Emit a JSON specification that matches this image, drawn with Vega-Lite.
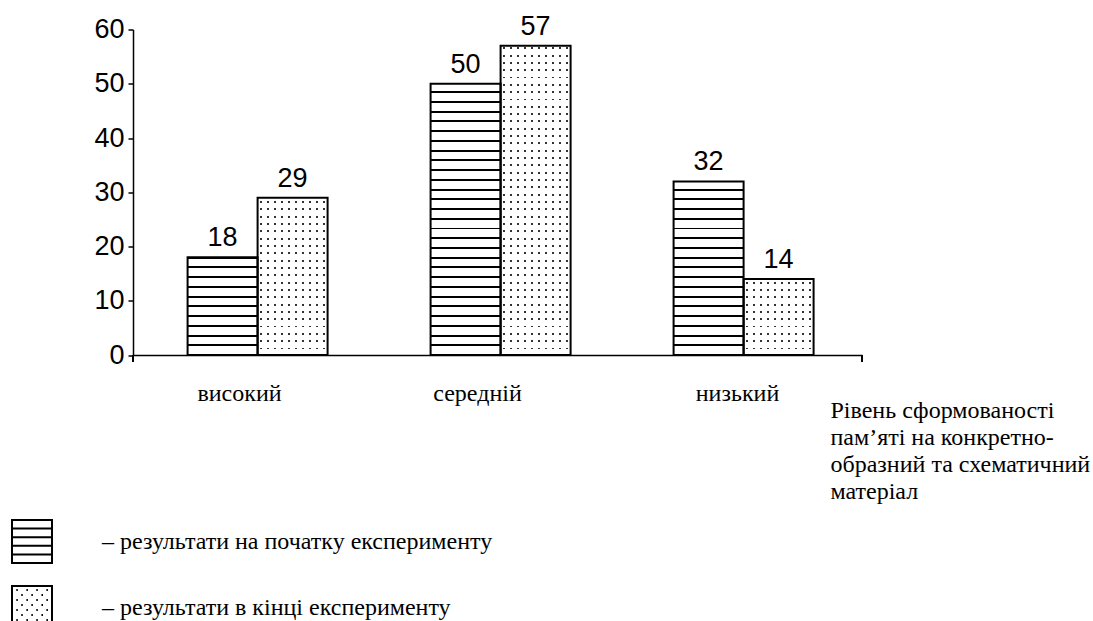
{
 "$schema": "https://vega.github.io/schema/vega-lite/v6.json",
 "width": 729, "height": 325.5,
 "autosize": {"type": "none"},
 "padding": {"left": 133, "top": 29.5, "right": 231, "bottom": 266},
 "background": "white",
 "config": {"view": {"stroke": null}},
 "data": {"values": [
  {"level": "високий", "series": "результати на початку експерименту", "value": 18},
  {"level": "високий", "series": "результати в кінці експерименту", "value": 29},
  {"level": "середній", "series": "результати на початку експерименту", "value": 50},
  {"level": "середній", "series": "результати в кінці експерименту", "value": 57},
  {"level": "низький", "series": "результати на початку експерименту", "value": 32},
  {"level": "низький", "series": "результати в кінці експерименту", "value": 14}
 ]},
 "layer": [
  {
   "mark": {"type": "bar"},
   "encoding": {
    "x": {"field": "level", "type": "nominal", "sort": ["високий", "середній", "низький"], "scale": {"paddingInner": 0, "paddingOuter": 0},
     "axis": {"title": ["Рівень сформованості", "пам’яті на конкретно-", "образний та схематичний", "матеріал"], "titleFont": "Liberation Serif", "titleFontSize": 24, "titleFontWeight": "normal", "titleColor": "black", "titleAlign": "left", "titleAnchor": "start", "titleBaseline": "top", "titleX": 697, "titleY": 43, "titleLineHeight": 27,
      "labelFont": "Liberation Serif", "labelFontSize": 24, "labelColor": "black", "labelAngle": 0, "labelBaseline": "alphabetic", "labelPadding": 45,
      "labelOffset": {"condition": [{"test": "datum.value === 'високий'", "value": -15}, {"test": "datum.value === 'середній'", "value": -20}], "value": -3},
      "ticks": false, "tickSize": 0, "domainColor": "black", "domainWidth": 1.5, "zindex": 1}},
    "xOffset": {"field": "series", "type": "nominal", "sort": ["результати на початку експерименту", "результати в кінці експерименту"], "scale": {"paddingInner": 0, "paddingOuter": 0.7357, "align": 0.53}},
    "y": {"field": "value", "type": "quantitative", "scale": {"domain": [0, 60], "nice": false},
     "axis": {"values": [0, 10, 20, 30, 40, 50, 60], "title": null, "grid": false, "domainColor": "black", "domainWidth": 1.5, "tickColor": "black", "tickWidth": 1.5, "tickSize": 5, "labelFont": "Liberation Sans", "labelFontSize": 27, "labelColor": "black", "labelPadding": 4, "zindex": 1}},
    "fill": {"condition": {"test": "datum.series === 'результати на початку експерименту'", "value": "black"},
     "value": {"gradient": "linear", "x1": 0, "y1": 0, "x2": 1, "y2": 0, "stops": [
      {"offset": 0, "color": "white"},
      {"offset": 0.0357, "color": "white"}, {"offset": 0.0357, "color": "#333"}, {"offset": 0.0643, "color": "#333"}, {"offset": 0.0643, "color": "white"},
      {"offset": 0.1357, "color": "white"}, {"offset": 0.1357, "color": "#333"}, {"offset": 0.1643, "color": "#333"}, {"offset": 0.1643, "color": "white"},
      {"offset": 0.2357, "color": "white"}, {"offset": 0.2357, "color": "#333"}, {"offset": 0.2643, "color": "#333"}, {"offset": 0.2643, "color": "white"},
      {"offset": 0.3357, "color": "white"}, {"offset": 0.3357, "color": "#333"}, {"offset": 0.3643, "color": "#333"}, {"offset": 0.3643, "color": "white"},
      {"offset": 0.4357, "color": "white"}, {"offset": 0.4357, "color": "#333"}, {"offset": 0.4643, "color": "#333"}, {"offset": 0.4643, "color": "white"},
      {"offset": 0.5357, "color": "white"}, {"offset": 0.5357, "color": "#333"}, {"offset": 0.5643, "color": "#333"}, {"offset": 0.5643, "color": "white"},
      {"offset": 0.6357, "color": "white"}, {"offset": 0.6357, "color": "#333"}, {"offset": 0.6643, "color": "#333"}, {"offset": 0.6643, "color": "white"},
      {"offset": 0.7357, "color": "white"}, {"offset": 0.7357, "color": "#333"}, {"offset": 0.7643, "color": "#333"}, {"offset": 0.7643, "color": "white"},
      {"offset": 0.8357, "color": "white"}, {"offset": 0.8357, "color": "#333"}, {"offset": 0.8643, "color": "#333"}, {"offset": 0.8643, "color": "white"},
      {"offset": 0.9357, "color": "white"}, {"offset": 0.9357, "color": "#333"}, {"offset": 0.9643, "color": "#333"}, {"offset": 0.9643, "color": "white"},
      {"offset": 1, "color": "white"}
     ]}}
   }
  },
  {
   "mark": {"type": "bar"},
   "encoding": {
    "x": {"field": "level", "type": "nominal", "sort": ["високий", "середній", "низький"]},
    "xOffset": {"field": "series", "type": "nominal", "sort": ["результати на початку експерименту", "результати в кінці експерименту"]},
    "y": {"datum": 60},
    "y2": {"datum": 0},
    "fill": {"condition": {"test": "datum.series === 'результати на початку експерименту'",
      "value": {"gradient": "linear", "x1": 0, "y1": 0, "x2": 0, "y2": 1, "stops": [
       {"offset": 0, "color": "white"},
       {"offset": 0.0103, "color": "white"}, {"offset": 0.0103, "color": "rgba(255,255,255,0)"}, {"offset": 0.0163, "color": "rgba(255,255,255,0)"}, {"offset": 0.0163, "color": "white"},
       {"offset": 0.0402, "color": "white"}, {"offset": 0.0402, "color": "rgba(255,255,255,0)"}, {"offset": 0.0462, "color": "rgba(255,255,255,0)"}, {"offset": 0.0462, "color": "white"},
       {"offset": 0.0701, "color": "white"}, {"offset": 0.0701, "color": "rgba(255,255,255,0)"}, {"offset": 0.0761, "color": "rgba(255,255,255,0)"}, {"offset": 0.0761, "color": "white"},
       {"offset": 0.1, "color": "white"}, {"offset": 0.1, "color": "rgba(255,255,255,0)"}, {"offset": 0.106, "color": "rgba(255,255,255,0)"}, {"offset": 0.106, "color": "white"},
       {"offset": 0.1299, "color": "white"}, {"offset": 0.1299, "color": "rgba(255,255,255,0)"}, {"offset": 0.1359, "color": "rgba(255,255,255,0)"}, {"offset": 0.1359, "color": "white"},
       {"offset": 0.1598, "color": "white"}, {"offset": 0.1598, "color": "rgba(255,255,255,0)"}, {"offset": 0.1658, "color": "rgba(255,255,255,0)"}, {"offset": 0.1658, "color": "white"},
       {"offset": 0.1897, "color": "white"}, {"offset": 0.1897, "color": "rgba(255,255,255,0)"}, {"offset": 0.1957, "color": "rgba(255,255,255,0)"}, {"offset": 0.1957, "color": "white"},
       {"offset": 0.2196, "color": "white"}, {"offset": 0.2196, "color": "rgba(255,255,255,0)"}, {"offset": 0.2256, "color": "rgba(255,255,255,0)"}, {"offset": 0.2256, "color": "white"},
       {"offset": 0.2495, "color": "white"}, {"offset": 0.2495, "color": "rgba(255,255,255,0)"}, {"offset": 0.2555, "color": "rgba(255,255,255,0)"}, {"offset": 0.2555, "color": "white"},
       {"offset": 0.2794, "color": "white"}, {"offset": 0.2794, "color": "rgba(255,255,255,0)"}, {"offset": 0.2854, "color": "rgba(255,255,255,0)"}, {"offset": 0.2854, "color": "white"},
       {"offset": 0.3093, "color": "white"}, {"offset": 0.3093, "color": "rgba(255,255,255,0)"}, {"offset": 0.3153, "color": "rgba(255,255,255,0)"}, {"offset": 0.3153, "color": "white"},
       {"offset": 0.3392, "color": "white"}, {"offset": 0.3392, "color": "rgba(255,255,255,0)"}, {"offset": 0.3452, "color": "rgba(255,255,255,0)"}, {"offset": 0.3452, "color": "white"},
       {"offset": 0.3691, "color": "white"}, {"offset": 0.3691, "color": "rgba(255,255,255,0)"}, {"offset": 0.3751, "color": "rgba(255,255,255,0)"}, {"offset": 0.3751, "color": "white"},
       {"offset": 0.399, "color": "white"}, {"offset": 0.399, "color": "rgba(255,255,255,0)"}, {"offset": 0.405, "color": "rgba(255,255,255,0)"}, {"offset": 0.405, "color": "white"},
       {"offset": 0.4289, "color": "white"}, {"offset": 0.4289, "color": "rgba(255,255,255,0)"}, {"offset": 0.4349, "color": "rgba(255,255,255,0)"}, {"offset": 0.4349, "color": "white"},
       {"offset": 0.4588, "color": "white"}, {"offset": 0.4588, "color": "rgba(255,255,255,0)"}, {"offset": 0.4648, "color": "rgba(255,255,255,0)"}, {"offset": 0.4648, "color": "white"},
       {"offset": 0.4887, "color": "white"}, {"offset": 0.4887, "color": "rgba(255,255,255,0)"}, {"offset": 0.4947, "color": "rgba(255,255,255,0)"}, {"offset": 0.4947, "color": "white"},
       {"offset": 0.5186, "color": "white"}, {"offset": 0.5186, "color": "rgba(255,255,255,0)"}, {"offset": 0.5246, "color": "rgba(255,255,255,0)"}, {"offset": 0.5246, "color": "white"},
       {"offset": 0.5485, "color": "white"}, {"offset": 0.5485, "color": "rgba(255,255,255,0)"}, {"offset": 0.5545, "color": "rgba(255,255,255,0)"}, {"offset": 0.5545, "color": "white"},
       {"offset": 0.5784, "color": "white"}, {"offset": 0.5784, "color": "rgba(255,255,255,0)"}, {"offset": 0.5844, "color": "rgba(255,255,255,0)"}, {"offset": 0.5844, "color": "white"},
       {"offset": 0.6083, "color": "white"}, {"offset": 0.6083, "color": "rgba(255,255,255,0)"}, {"offset": 0.6143, "color": "rgba(255,255,255,0)"}, {"offset": 0.6143, "color": "white"},
       {"offset": 0.6382, "color": "white"}, {"offset": 0.6382, "color": "rgba(255,255,255,0)"}, {"offset": 0.6442, "color": "rgba(255,255,255,0)"}, {"offset": 0.6442, "color": "white"},
       {"offset": 0.6681, "color": "white"}, {"offset": 0.6681, "color": "rgba(255,255,255,0)"}, {"offset": 0.6741, "color": "rgba(255,255,255,0)"}, {"offset": 0.6741, "color": "white"},
       {"offset": 0.698, "color": "white"}, {"offset": 0.698, "color": "rgba(255,255,255,0)"}, {"offset": 0.704, "color": "rgba(255,255,255,0)"}, {"offset": 0.704, "color": "white"},
       {"offset": 0.7279, "color": "white"}, {"offset": 0.7279, "color": "rgba(255,255,255,0)"}, {"offset": 0.7339, "color": "rgba(255,255,255,0)"}, {"offset": 0.7339, "color": "white"},
       {"offset": 0.7578, "color": "white"}, {"offset": 0.7578, "color": "rgba(255,255,255,0)"}, {"offset": 0.7638, "color": "rgba(255,255,255,0)"}, {"offset": 0.7638, "color": "white"},
       {"offset": 0.7877, "color": "white"}, {"offset": 0.7877, "color": "rgba(255,255,255,0)"}, {"offset": 0.7937, "color": "rgba(255,255,255,0)"}, {"offset": 0.7937, "color": "white"},
       {"offset": 0.8176, "color": "white"}, {"offset": 0.8176, "color": "rgba(255,255,255,0)"}, {"offset": 0.8236, "color": "rgba(255,255,255,0)"}, {"offset": 0.8236, "color": "white"},
       {"offset": 0.8475, "color": "white"}, {"offset": 0.8475, "color": "rgba(255,255,255,0)"}, {"offset": 0.8535, "color": "rgba(255,255,255,0)"}, {"offset": 0.8535, "color": "white"},
       {"offset": 0.8774, "color": "white"}, {"offset": 0.8774, "color": "rgba(255,255,255,0)"}, {"offset": 0.8834, "color": "rgba(255,255,255,0)"}, {"offset": 0.8834, "color": "white"},
       {"offset": 0.9073, "color": "white"}, {"offset": 0.9073, "color": "rgba(255,255,255,0)"}, {"offset": 0.9133, "color": "rgba(255,255,255,0)"}, {"offset": 0.9133, "color": "white"},
       {"offset": 0.9372, "color": "white"}, {"offset": 0.9372, "color": "rgba(255,255,255,0)"}, {"offset": 0.9432, "color": "rgba(255,255,255,0)"}, {"offset": 0.9432, "color": "white"},
       {"offset": 0.9671, "color": "white"}, {"offset": 0.9671, "color": "rgba(255,255,255,0)"}, {"offset": 0.9731, "color": "rgba(255,255,255,0)"}, {"offset": 0.9731, "color": "white"},
       {"offset": 1, "color": "white"}
      ]}},
     "value": {"gradient": "linear", "x1": 0, "y1": 0, "x2": 0, "y2": 1, "stops": [
      {"offset": 0, "color": "white"},
      {"offset": 0.0095, "color": "white"}, {"offset": 0.0095, "color": "rgba(255,255,255,0)"}, {"offset": 0.0155, "color": "rgba(255,255,255,0)"}, {"offset": 0.0155, "color": "white"},
      {"offset": 0.032, "color": "white"}, {"offset": 0.032, "color": "rgba(255,255,255,0)"}, {"offset": 0.038, "color": "rgba(255,255,255,0)"}, {"offset": 0.038, "color": "white"},
      {"offset": 0.0545, "color": "white"}, {"offset": 0.0545, "color": "rgba(255,255,255,0)"}, {"offset": 0.0605, "color": "rgba(255,255,255,0)"}, {"offset": 0.0605, "color": "white"},
      {"offset": 0.077, "color": "white"}, {"offset": 0.077, "color": "rgba(255,255,255,0)"}, {"offset": 0.083, "color": "rgba(255,255,255,0)"}, {"offset": 0.083, "color": "white"},
      {"offset": 0.0995, "color": "white"}, {"offset": 0.0995, "color": "rgba(255,255,255,0)"}, {"offset": 0.1055, "color": "rgba(255,255,255,0)"}, {"offset": 0.1055, "color": "white"},
      {"offset": 0.122, "color": "white"}, {"offset": 0.122, "color": "rgba(255,255,255,0)"}, {"offset": 0.128, "color": "rgba(255,255,255,0)"}, {"offset": 0.128, "color": "white"},
      {"offset": 0.1445, "color": "white"}, {"offset": 0.1445, "color": "rgba(255,255,255,0)"}, {"offset": 0.1505, "color": "rgba(255,255,255,0)"}, {"offset": 0.1505, "color": "white"},
      {"offset": 0.167, "color": "white"}, {"offset": 0.167, "color": "rgba(255,255,255,0)"}, {"offset": 0.173, "color": "rgba(255,255,255,0)"}, {"offset": 0.173, "color": "white"},
      {"offset": 0.1895, "color": "white"}, {"offset": 0.1895, "color": "rgba(255,255,255,0)"}, {"offset": 0.1955, "color": "rgba(255,255,255,0)"}, {"offset": 0.1955, "color": "white"},
      {"offset": 0.212, "color": "white"}, {"offset": 0.212, "color": "rgba(255,255,255,0)"}, {"offset": 0.218, "color": "rgba(255,255,255,0)"}, {"offset": 0.218, "color": "white"},
      {"offset": 0.2345, "color": "white"}, {"offset": 0.2345, "color": "rgba(255,255,255,0)"}, {"offset": 0.2405, "color": "rgba(255,255,255,0)"}, {"offset": 0.2405, "color": "white"},
      {"offset": 0.257, "color": "white"}, {"offset": 0.257, "color": "rgba(255,255,255,0)"}, {"offset": 0.263, "color": "rgba(255,255,255,0)"}, {"offset": 0.263, "color": "white"},
      {"offset": 0.2795, "color": "white"}, {"offset": 0.2795, "color": "rgba(255,255,255,0)"}, {"offset": 0.2855, "color": "rgba(255,255,255,0)"}, {"offset": 0.2855, "color": "white"},
      {"offset": 0.302, "color": "white"}, {"offset": 0.302, "color": "rgba(255,255,255,0)"}, {"offset": 0.308, "color": "rgba(255,255,255,0)"}, {"offset": 0.308, "color": "white"},
      {"offset": 0.3245, "color": "white"}, {"offset": 0.3245, "color": "rgba(255,255,255,0)"}, {"offset": 0.3305, "color": "rgba(255,255,255,0)"}, {"offset": 0.3305, "color": "white"},
      {"offset": 0.347, "color": "white"}, {"offset": 0.347, "color": "rgba(255,255,255,0)"}, {"offset": 0.353, "color": "rgba(255,255,255,0)"}, {"offset": 0.353, "color": "white"},
      {"offset": 0.3695, "color": "white"}, {"offset": 0.3695, "color": "rgba(255,255,255,0)"}, {"offset": 0.3755, "color": "rgba(255,255,255,0)"}, {"offset": 0.3755, "color": "white"},
      {"offset": 0.392, "color": "white"}, {"offset": 0.392, "color": "rgba(255,255,255,0)"}, {"offset": 0.398, "color": "rgba(255,255,255,0)"}, {"offset": 0.398, "color": "white"},
      {"offset": 0.4145, "color": "white"}, {"offset": 0.4145, "color": "rgba(255,255,255,0)"}, {"offset": 0.4205, "color": "rgba(255,255,255,0)"}, {"offset": 0.4205, "color": "white"},
      {"offset": 0.437, "color": "white"}, {"offset": 0.437, "color": "rgba(255,255,255,0)"}, {"offset": 0.443, "color": "rgba(255,255,255,0)"}, {"offset": 0.443, "color": "white"},
      {"offset": 0.4595, "color": "white"}, {"offset": 0.4595, "color": "rgba(255,255,255,0)"}, {"offset": 0.4655, "color": "rgba(255,255,255,0)"}, {"offset": 0.4655, "color": "white"},
      {"offset": 0.482, "color": "white"}, {"offset": 0.482, "color": "rgba(255,255,255,0)"}, {"offset": 0.488, "color": "rgba(255,255,255,0)"}, {"offset": 0.488, "color": "white"},
      {"offset": 0.5045, "color": "white"}, {"offset": 0.5045, "color": "rgba(255,255,255,0)"}, {"offset": 0.5105, "color": "rgba(255,255,255,0)"}, {"offset": 0.5105, "color": "white"},
      {"offset": 0.527, "color": "white"}, {"offset": 0.527, "color": "rgba(255,255,255,0)"}, {"offset": 0.533, "color": "rgba(255,255,255,0)"}, {"offset": 0.533, "color": "white"},
      {"offset": 0.5495, "color": "white"}, {"offset": 0.5495, "color": "rgba(255,255,255,0)"}, {"offset": 0.5555, "color": "rgba(255,255,255,0)"}, {"offset": 0.5555, "color": "white"},
      {"offset": 0.572, "color": "white"}, {"offset": 0.572, "color": "rgba(255,255,255,0)"}, {"offset": 0.578, "color": "rgba(255,255,255,0)"}, {"offset": 0.578, "color": "white"},
      {"offset": 0.5945, "color": "white"}, {"offset": 0.5945, "color": "rgba(255,255,255,0)"}, {"offset": 0.6005, "color": "rgba(255,255,255,0)"}, {"offset": 0.6005, "color": "white"},
      {"offset": 0.617, "color": "white"}, {"offset": 0.617, "color": "rgba(255,255,255,0)"}, {"offset": 0.623, "color": "rgba(255,255,255,0)"}, {"offset": 0.623, "color": "white"},
      {"offset": 0.6395, "color": "white"}, {"offset": 0.6395, "color": "rgba(255,255,255,0)"}, {"offset": 0.6455, "color": "rgba(255,255,255,0)"}, {"offset": 0.6455, "color": "white"},
      {"offset": 0.662, "color": "white"}, {"offset": 0.662, "color": "rgba(255,255,255,0)"}, {"offset": 0.668, "color": "rgba(255,255,255,0)"}, {"offset": 0.668, "color": "white"},
      {"offset": 0.6845, "color": "white"}, {"offset": 0.6845, "color": "rgba(255,255,255,0)"}, {"offset": 0.6905, "color": "rgba(255,255,255,0)"}, {"offset": 0.6905, "color": "white"},
      {"offset": 0.707, "color": "white"}, {"offset": 0.707, "color": "rgba(255,255,255,0)"}, {"offset": 0.713, "color": "rgba(255,255,255,0)"}, {"offset": 0.713, "color": "white"},
      {"offset": 0.7295, "color": "white"}, {"offset": 0.7295, "color": "rgba(255,255,255,0)"}, {"offset": 0.7355, "color": "rgba(255,255,255,0)"}, {"offset": 0.7355, "color": "white"},
      {"offset": 0.752, "color": "white"}, {"offset": 0.752, "color": "rgba(255,255,255,0)"}, {"offset": 0.758, "color": "rgba(255,255,255,0)"}, {"offset": 0.758, "color": "white"},
      {"offset": 0.7745, "color": "white"}, {"offset": 0.7745, "color": "rgba(255,255,255,0)"}, {"offset": 0.7805, "color": "rgba(255,255,255,0)"}, {"offset": 0.7805, "color": "white"},
      {"offset": 0.797, "color": "white"}, {"offset": 0.797, "color": "rgba(255,255,255,0)"}, {"offset": 0.803, "color": "rgba(255,255,255,0)"}, {"offset": 0.803, "color": "white"},
      {"offset": 0.8195, "color": "white"}, {"offset": 0.8195, "color": "rgba(255,255,255,0)"}, {"offset": 0.8255, "color": "rgba(255,255,255,0)"}, {"offset": 0.8255, "color": "white"},
      {"offset": 0.842, "color": "white"}, {"offset": 0.842, "color": "rgba(255,255,255,0)"}, {"offset": 0.848, "color": "rgba(255,255,255,0)"}, {"offset": 0.848, "color": "white"},
      {"offset": 0.8645, "color": "white"}, {"offset": 0.8645, "color": "rgba(255,255,255,0)"}, {"offset": 0.8705, "color": "rgba(255,255,255,0)"}, {"offset": 0.8705, "color": "white"},
      {"offset": 0.887, "color": "white"}, {"offset": 0.887, "color": "rgba(255,255,255,0)"}, {"offset": 0.893, "color": "rgba(255,255,255,0)"}, {"offset": 0.893, "color": "white"},
      {"offset": 0.9095, "color": "white"}, {"offset": 0.9095, "color": "rgba(255,255,255,0)"}, {"offset": 0.9155, "color": "rgba(255,255,255,0)"}, {"offset": 0.9155, "color": "white"},
      {"offset": 0.932, "color": "white"}, {"offset": 0.932, "color": "rgba(255,255,255,0)"}, {"offset": 0.938, "color": "rgba(255,255,255,0)"}, {"offset": 0.938, "color": "white"},
      {"offset": 0.9545, "color": "white"}, {"offset": 0.9545, "color": "rgba(255,255,255,0)"}, {"offset": 0.9605, "color": "rgba(255,255,255,0)"}, {"offset": 0.9605, "color": "white"},
      {"offset": 0.977, "color": "white"}, {"offset": 0.977, "color": "rgba(255,255,255,0)"}, {"offset": 0.983, "color": "rgba(255,255,255,0)"}, {"offset": 0.983, "color": "white"},
      {"offset": 1, "color": "white"}
     ]}}
   }
  },
  {
   "mark": {"type": "bar", "fill": "transparent", "stroke": "black", "strokeWidth": 2},
   "encoding": {
    "x": {"field": "level", "type": "nominal", "sort": ["високий", "середній", "низький"]},
    "xOffset": {"field": "series", "type": "nominal", "sort": ["результати на початку експерименту", "результати в кінці експерименту"]},
    "y": {"field": "value", "type": "quantitative"}
   }
  },
  {
   "mark": {"type": "text", "font": "Liberation Sans", "fontSize": 27, "baseline": "alphabetic", "dy": -11, "color": "black"},
   "encoding": {
    "x": {"field": "level", "type": "nominal", "sort": ["високий", "середній", "низький"]},
    "xOffset": {"field": "series", "type": "nominal", "sort": ["результати на початку експерименту", "результати в кінці експерименту"]},
    "y": {"field": "value", "type": "quantitative"},
    "text": {"field": "value", "type": "quantitative"}
   }
  },
  {
   "mark": {"type": "point", "opacity": 0, "color": "black", "strokeWidth": 2},
   "encoding": {
    "x": {"field": "level", "type": "nominal", "sort": ["високий", "середній", "низький"]},
    "xOffset": {"field": "series", "type": "nominal", "sort": ["результати на початку експерименту", "результати в кінці експерименту"]},
    "y": {"datum": 0},
    "shape": {"field": "series", "type": "nominal",
     "scale": {"domain": ["результати на початку експерименту", "результати в кінці експерименту"],
      "range": ["M-0.93,-1H0.93V1H-0.93Z M-0.93,-0.6H0.93 M-0.93,-0.2H0.93 M-0.93,0.2H0.93 M-0.93,0.6H0.93",
       "M-0.93,-1H0.93V1H-0.93Z M-0.73,-0.81h0.07 M-0.26,-0.81h0.07 M0.2,-0.81h0.07 M0.67,-0.81h0.07 M-0.5,-0.58h0.07 M-0.03,-0.58h0.07 M0.44,-0.58h0.07 M-0.73,-0.35h0.07 M-0.26,-0.35h0.07 M0.2,-0.35h0.07 M0.67,-0.35h0.07 M-0.5,-0.12h0.07 M-0.03,-0.12h0.07 M0.44,-0.12h0.07 M-0.73,0.12h0.07 M-0.26,0.12h0.07 M0.2,0.12h0.07 M0.67,0.12h0.07 M-0.5,0.35h0.07 M-0.03,0.35h0.07 M0.44,0.35h0.07 M-0.73,0.58h0.07 M-0.26,0.58h0.07 M0.2,0.58h0.07 M0.67,0.58h0.07 M-0.5,0.81h0.07 M-0.03,0.81h0.07 M0.44,0.81h0.07"]},
     "legend": {"orient": "none", "legendX": -123.5, "legendY": 489.5, "title": null, "padding": 0, "direction": "vertical",
      "symbolSize": 1849, "symbolStrokeColor": "black", "symbolStrokeWidth": 2, "symbolFillColor": "transparent", "symbolOpacity": 1,
      "labelFont": "Liberation Serif", "labelFontSize": 24, "labelColor": "black", "labelOffset": 47.5, "rowPadding": 15, "labelLimit": 800,
      "labelExpr": "'– ' + datum.label"}}
   }
  },
  {
   "mark": {"type": "rule", "color": "black", "strokeWidth": 1.5},
   "encoding": {
    "x": {"datum": "низький", "bandPosition": 1},
    "y": {"datum": 0},
    "y2": {"datum": -1.3}
   }
  },
  {
   "mark": {"type": "rule", "color": "black", "strokeWidth": 1.5},
   "encoding": {
    "x": {"datum": "високий", "bandPosition": 0},
    "y": {"datum": 0},
    "y2": {"datum": -1.3}
   }
  }
 ]
}
